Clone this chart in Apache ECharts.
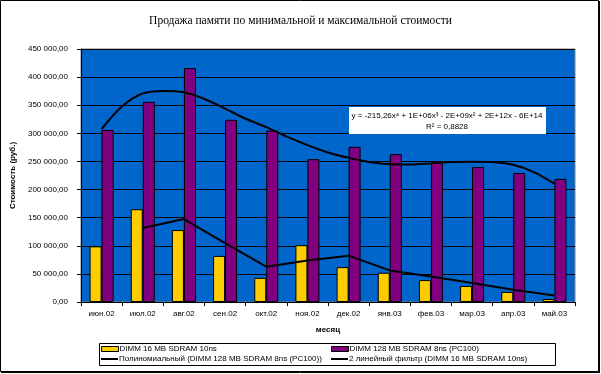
<!DOCTYPE html>
<html>
<head>
<meta charset="utf-8">
<script src="https://cdn.jsdelivr.net/npm/echarts@6/dist/echarts.min.js"></script>
<style>
html,body{margin:0;padding:0;background:#fff;}
#chart{width:601px;height:374px;}
</style>
</head>
<body>
<div id="chart"></div>
<script>
const categories = ['июн.02','июл.02','авг.02','сен.02','окт.02','ноя.02','дек.02','янв.03','фев.03','мар.03','апр.03','май.03'];
const dimm16 = [99000,165000,128000,82000,43000,101000,62000,52000,39000,28500,18000,5300];
const dimm128 = [306000,356000,416000,324000,305000,254000,276000,263000,250000,240000,229500,219000];
const movingAvg = [null,131600,147600,104900,62800,74000,82400,56200,45500,33800,21900,11700];
const trendPos = [0.5,1.0,1.5,2.0,2.5,3.0,3.5,4.0,4.5,5.0,5.5,6.0,6.5,7.0,7.5,8.0,8.5,9.0,9.5,10.0,10.5,11.0,11.5];
const trendVal = [307700,348000,371000,375500,373000,361000,344000,326000,311000,294000,279000,266000,256500,249000,245000,244500,246500,249000,249500,249000,244000,231000,210400];
const seriesNames = ['DIMM 16 MB SDRAM 10ns','DIMM 128 MB SDRAM 8ns (PC100)','Полиномиальный (DIMM 128 MB SDRAM 8ns (PC100))','2 линейный фильтр (DIMM 16 MB SDRAM 10ns)'];
const titleText = 'Продажа памяти по минимальной и максимальной стоимости';
const yAxisName = 'Стоимость (руб.)';
const xAxisName = 'месяц';
const eqLine1 = 'y = -215,26x⁴ + 1E+06x³ - 2E+09x² + 2E+12x - 6E+14';
const eqLine2 = 'R² = 0,8828';
const yMin = 0, yMax = 450000, yStep = 50000;

const FONT = '"Liberation Sans", Arial, sans-serif';
const chart = echarts.init(document.getElementById('chart'), null, {renderer:'canvas'});

function fmtY(v){
  return String(v).replace(/\B(?=(\d{3})+(?!\d))/g,' ') + ',00';
}

function legendItem(name, left, top, isLine){
  return {
    data:[{name:name, icon:'rect'}],
    orient:'horizontal', left:left, top:top, padding:0,
    itemWidth:17, itemHeight:isLine ? 2 : 5,
    itemStyle:isLine ? {color:'#000', borderWidth:0} : {borderColor:'#000', borderWidth:1},
    textStyle:{fontFamily:FONT, fontSize:8, color:'#000', lineHeight:10, padding:[0,0,0,-4]}
  };
}

chart.setOption({
  animation:false,
  backgroundColor:'#ffffff',
  title:{
    text:titleText, left:'center', top:15, padding:0,
    textStyle:{fontFamily:'"Liberation Serif", "Times New Roman", serif', fontSize:11.5, fontWeight:'normal', color:'#000'}
  },
  grid:{
    left:81, right:26, top:49, bottom:72,
    show:true, backgroundColor:'#0066CC', borderColor:'#808080', borderWidth:1
  },
  legend:[
    legendItem(seriesNames[0], 101, 344, false),
    legendItem(seriesNames[2], 101, 354, true),
    legendItem(seriesNames[1], 331, 344, false),
    legendItem(seriesNames[3], 331, 354, true)
  ],
  xAxis:[
    {
      type:'category', data:categories, boundaryGap:true,
      name:xAxisName, nameLocation:'middle', nameGap:24,
      nameTextStyle:{fontFamily:FONT, fontSize:8, fontWeight:'bold', color:'#000'},
      axisLine:{lineStyle:{color:'#000', width:1}},
      axisTick:{show:true, length:4, lineStyle:{color:'#000'}},
      axisLabel:{fontFamily:FONT, fontSize:8, color:'#000', margin:8, interval:0},
      splitLine:{show:false}
    },
    {
      type:'value', min:0, max:12, show:false
    }
  ],
  yAxis:{
    type:'value', min:yMin, max:yMax, interval:yStep,
    name:yAxisName, nameLocation:'middle', nameGap:58,
    nameTextStyle:{fontFamily:FONT, fontSize:8, fontWeight:'bold', color:'#000'},
    axisLine:{show:true, lineStyle:{color:'#000', width:1}},
    axisTick:{show:true, length:4, lineStyle:{color:'#000'}},
    axisLabel:{fontFamily:FONT, fontSize:8, color:'#000', margin:13, formatter:fmtY},
    splitLine:{show:true, lineStyle:{color:'#000', width:1}}
  },
  series:[
    {
      name:seriesNames[0], type:'bar', data:dimm16, barWidth:12, barGap:'0%',
      itemStyle:{color:'#FFCC00', borderColor:'#000', borderWidth:1}
    },
    {
      name:seriesNames[1], type:'bar', data:dimm128, barWidth:12, barGap:'0%',
      itemStyle:{color:'#800080', borderColor:'#000', borderWidth:1}
    },
    {
      name:seriesNames[2], type:'line', xAxisIndex:1,
      data:trendPos.map((p,i)=>[p, trendVal[i]]),
      smooth:0.3, symbol:'none', showSymbol:false,
      lineStyle:{color:'#000', width:2}, itemStyle:{color:'#000'}, z:5
    },
    {
      name:seriesNames[3], type:'line', data:movingAvg,
      symbol:'none', showSymbol:false, connectNulls:false,
      lineStyle:{color:'#000', width:2}, itemStyle:{color:'#000'}, z:5
    }
  ],
  graphic:[
    {type:'rect', z:100, shape:{x:0.5, y:0.5, width:598, height:371}, style:{fill:'none', stroke:'#000', lineWidth:1}},
    {type:'line', z:100, shape:{x1:599.5, y1:1, x2:599.5, y2:373}, style:{stroke:'#000', lineWidth:1}},
    {type:'line', z:100, shape:{x1:1, y1:372.5, x2:600, y2:372.5}, style:{stroke:'#000', lineWidth:1}},
    {type:'rect', z:100, shape:{x:99.5, y:343.5, width:456, height:22}, style:{fill:'none', stroke:'#000', lineWidth:1}},
    {type:'rect', z:100, shape:{x:349, y:107, width:197, height:27}, style:{fill:'#fff', stroke:'none'}},
    {type:'text', z:101, x:447, y:116, style:{text:eqLine1, font:'8px "Liberation Sans", Arial, sans-serif', fill:'#000', align:'center', verticalAlign:'middle'}},
    {type:'text', z:101, x:447, y:127, style:{text:eqLine2, font:'8px "Liberation Sans", Arial, sans-serif', fill:'#000', align:'center', verticalAlign:'middle'}}
  ]
});
</script>
</body>
</html>
